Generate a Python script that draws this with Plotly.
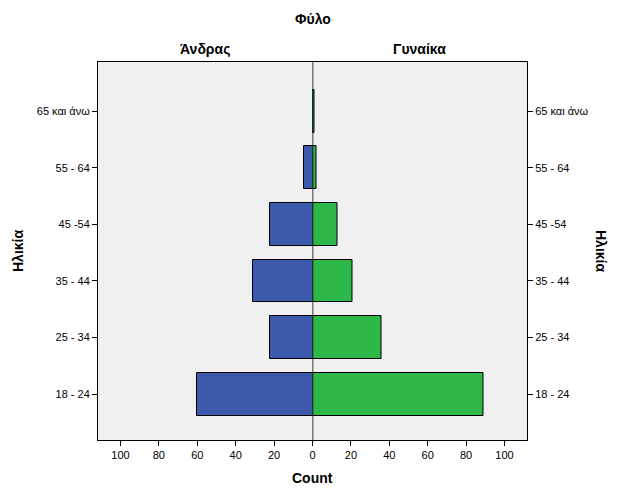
import plotly.graph_objects as go

categories = ["18 - 24", "25 - 34", "35 - 44", "45 -54", "55 - 64", "65 και άνω"]
male = [60, 22, 31, 22, 4.5, 0]
female = [89, 36, 21, 13, 2, 1]
x_ticks = [0, 20, 40, 60, 80, 100]

BLUE = "#3d59ab"
GREEN = "#2eb84a"
BG = "#f0f0f0"
FONT = "Liberation Sans, Arial, sans-serif"
XMAX = 111.7

fig = go.Figure()
fig.add_trace(go.Bar(x=male, y=categories, orientation="h", xaxis="x", yaxis="y",
                     marker=dict(color=BLUE, line=dict(color="#000000", width=1)),
                     width=0.755, showlegend=False, hoverinfo="x+y"))
fig.add_trace(go.Bar(x=female, y=categories, orientation="h", xaxis="x2", yaxis="y2",
                     marker=dict(color=GREEN, line=dict(color="#000000", width=1)),
                     width=0.755, showlegend=False, hoverinfo="x+y"))

axis_common = dict(showgrid=False, zeroline=False, showline=True, linecolor="black", linewidth=1,
                   ticks="outside", ticklen=5, tickcolor="black",
                   tickfont=dict(family=FONT, size=11, color="black"))

ann_font = dict(size=14, family=FONT, color="black")

fig.update_layout(
    width=626, height=501,
    margin=dict(l=90, r=107, t=54, b=69),
    paper_bgcolor="white", plot_bgcolor=BG,
    font=dict(family=FONT, color="black"),
    bargap=0,
    xaxis=dict(domain=[0, 0.5], range=[XMAX, 0], anchor="y", mirror=True,
               tickvals=x_ticks[1:], ticktext=[str(v) for v in x_ticks[1:]], **axis_common),
    xaxis2=dict(domain=[0.5, 1], range=[0, XMAX], anchor="y2", mirror=True,
                tickvals=x_ticks, ticktext=[str(v) for v in x_ticks], **axis_common),
    yaxis=dict(anchor="x", side="left", type="category", categoryorder="array",
               categoryarray=categories, range=[-0.81, 5.87], **axis_common),
    yaxis2=dict(anchor="x2", side="right", type="category", categoryorder="array",
                categoryarray=categories, range=[-0.81, 5.87], matches="y", **axis_common),
    shapes=[dict(type="line", xref="x2", yref="paper", x0=0, x1=0, y0=0, y1=1,
                 line=dict(color="black", width=1.5), layer="above")],
    annotations=[
        dict(text="<b>Φύλο</b>", xref="paper", yref="paper", x=0.5, y=1, yshift=43,
             xanchor="center", yanchor="middle", showarrow=False, font=ann_font),
        dict(text="<b>Άνδρας</b>", xref="paper", yref="paper", x=0.25, y=1, yshift=13,
             xanchor="center", yanchor="middle", showarrow=False, font=ann_font),
        dict(text="<b>Γυναίκα</b>", xref="paper", yref="paper", x=0.75, y=1, yshift=13,
             xanchor="center", yanchor="middle", showarrow=False, font=ann_font),
        dict(text="<b>Count</b>", xref="paper", yref="paper", x=0.5, y=0, yshift=-38,
             xanchor="center", yanchor="middle", showarrow=False, font=ann_font),
        dict(text="<b>Ηλικία</b>", xref="paper", yref="paper", x=0, y=0.5, xshift=-80,
             xanchor="center", yanchor="middle", textangle=-90, showarrow=False, font=ann_font),
        dict(text="<b>Ηλικία</b>", xref="paper", yref="paper", x=1, y=0.5, xshift=74,
             xanchor="center", yanchor="middle", textangle=90, showarrow=False, font=ann_font),
    ],
)

fig.write_html("out.html")
